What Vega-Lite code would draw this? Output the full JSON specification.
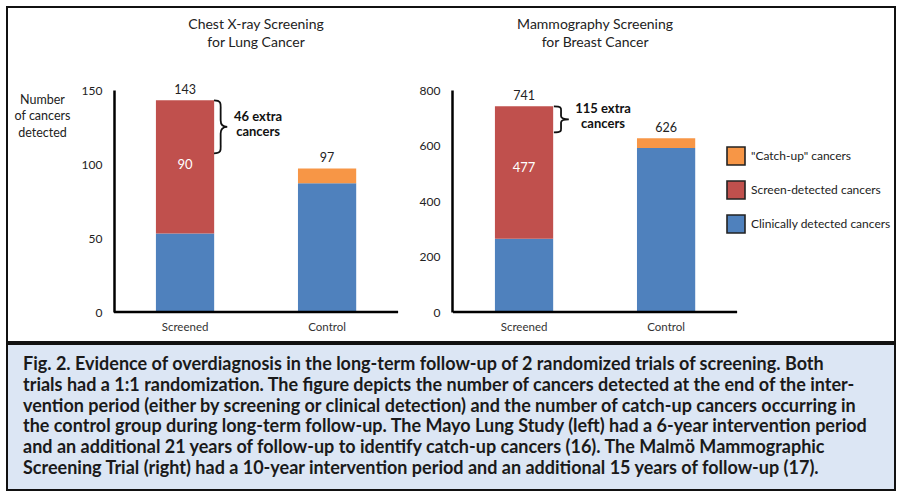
{
  "$schema": "https://vega.github.io/schema/vega-lite/v6.json",
  "background": "white",
  "padding": {"left": 6, "top": 6, "right": 6, "bottom": 8},
  "spacing": 0,
  "config": {"font": "Lato", "text": {"font": "Lato"}},
  "datasets": {
    "bars": [
      {"panel": "Lung", "group": "Screened", "type": "Clinically detected cancers", "order": 1, "count": 53},
      {"panel": "Lung", "group": "Screened", "type": "Screen-detected cancers", "order": 2, "count": 90},
      {"panel": "Lung", "group": "Control", "type": "Clinically detected cancers", "order": 1, "count": 87},
      {"panel": "Lung", "group": "Control", "type": "\"Catch-up\" cancers", "order": 3, "count": 10},
      {"panel": "Breast", "group": "Screened", "type": "Clinically detected cancers", "order": 1, "count": 264},
      {"panel": "Breast", "group": "Screened", "type": "Screen-detected cancers", "order": 2, "count": 477},
      {"panel": "Breast", "group": "Control", "type": "Clinically detected cancers", "order": 1, "count": 591},
      {"panel": "Breast", "group": "Control", "type": "\"Catch-up\" cancers", "order": 3, "count": 35}
    ],
    "notes": [
      {"panel": "Lung", "group": "Screened", "total": 143, "note": "46 extra\ncancers"},
      {"panel": "Breast", "group": "Screened", "total": 741, "note": "115 extra\ncancers"}
    ],
    "titles": [
      {"panel": "Lung", "title": "Chest X-ray Screening\nfor Lung Cancer"},
      {"panel": "Breast", "title": "Mammography Screening\nfor Breast Cancer"}
    ],
    "caption": [
      {"line": 1, "text": "Fig. 2.  Evidence of overdiagnosis in the long-term follow-up of 2 randomized trials of screening. Both"},
      {"line": 2, "text": "trials had a 1:1 randomization. The figure depicts the number of cancers detected at the end of the inter-"},
      {"line": 3, "text": "vention period (either by screening or clinical detection) and the number of catch-up cancers occurring in"},
      {"line": 4, "text": "the control group during long-term follow-up. The Mayo Lung Study (left) had a 6-year intervention period"},
      {"line": 5, "text": "and an additional 21 years of follow-up to identify catch-up cancers (16). The Malmö Mammographic"},
      {"line": 6, "text": "Screening Trial (right) had a 10-year intervention period and an additional 15 years of follow-up (17)."}
    ]
  },
  "vconcat": [
    {
      "width": 888,
      "height": 335,
      "view": {"stroke": "#111111", "strokeWidth": 2},
      "resolve": {"scale": {"y": "independent"}, "axis": {"y": "independent"}},
      "layer": [
        {
          "layer": [
            {
              "data": {"name": "bars"},
              "transform": [
                {"filter": "datum.panel === 'Lung'"},
                {"stack": "count", "groupby": ["panel", "group"], "sort": [{"field": "order"}], "as": ["y0", "y1"]}
              ],
              "mark": {"type": "bar"},
              "encoding": {
                "x": {"field": "panel", "type": "nominal", "axis": null, "scale": {"domain": ["Lung", "Breast"], "paddingInner": 0.162, "paddingOuter": 0.3907, "align": 0.404}},
                "xOffset": {"field": "group", "type": "nominal", "scale": {"domain": ["Screened", "Control"], "paddingInner": 0.59, "paddingOuter": 0.295}},
                "y": {
                  "field": "y1", "type": "quantitative",
                  "scale": {"domain": [0, 150], "range": [305, 83], "nice": false},
                  "axis": {
                    "orient": "left", "offset": -107, "values": [0, 50, 100, 150], "ticks": false, "tickSize": 0, "grid": false,
                    "domainColor": "#000000", "domainWidth": 2.5, "labelFontSize": 12, "labelPadding": 12, "labelColor": "#222222",
                    "title": ["Number", "of cancers", "detected"], "titleAngle": 0, "titleAlign": "center", "titleBaseline": "middle",
                    "titleX": -72, "titleY": 92, "titleFontSize": 12.5, "titleFontWeight": "normal", "titleLineHeight": 16.5, "titleColor": "#222222"
                  }
                },
                "y2": {"field": "y0"},
                "color": {
                  "field": "type", "type": "nominal",
                  "scale": {"domain": ["\"Catch-up\" cancers", "Screen-detected cancers", "Clinically detected cancers"], "range": ["#f79646", "#c0504d", "#4f81bd"]},
                  "legend": {
                    "orient": "none", "legendX": 719, "legendY": 139, "title": null, "padding": 0,
                    "symbolType": "square", "symbolSize": 324, "symbolStrokeColor": "#222222", "symbolStrokeWidth": 1.6,
                    "labelFontSize": 12, "labelOffset": 5, "rowPadding": 8, "labelColor": "#222222",
                    "encode": {"symbols": {"update": {"stroke": {"value": "#222222"}, "strokeWidth": {"value": 1.6}}}}
                  }
                }
              }
            },
            {
              "data": {"name": "bars"},
              "transform": [
                {"filter": "datum.panel === 'Lung'"},
                {"stack": "count", "groupby": ["panel", "group"], "sort": [{"field": "order"}], "as": ["y0", "y1"]},
                {"filter": "datum.type === 'Screen-detected cancers'"},
                {"calculate": "(datum.y0 + datum.y1) / 2", "as": "mid"}
              ],
              "mark": {"type": "text", "color": "white", "fontSize": 13, "dy": -2, "baseline": "middle"},
              "encoding": {
                "x": {"field": "panel", "type": "nominal", "axis": null, "scale": {"domain": ["Lung", "Breast"], "paddingInner": 0.162, "paddingOuter": 0.3907, "align": 0.404}},
                "xOffset": {"field": "group", "type": "nominal", "scale": {"domain": ["Screened", "Control"], "paddingInner": 0.59, "paddingOuter": 0.295}},
                "y": {"field": "mid", "type": "quantitative"},
                "text": {"field": "count", "type": "quantitative"}
              }
            },
            {
              "data": {"name": "bars"},
              "transform": [
                {"filter": "datum.panel === 'Lung'"},
                {"aggregate": [{"op": "sum", "field": "count", "as": "total"}], "groupby": ["panel", "group"]}
              ],
              "mark": {"type": "text", "color": "#222222", "fontSize": 12.5, "dy": -10, "baseline": "middle"},
              "encoding": {
                "x": {"field": "panel", "type": "nominal", "axis": null, "scale": {"domain": ["Lung", "Breast"], "paddingInner": 0.162, "paddingOuter": 0.3907, "align": 0.404}},
                "xOffset": {"field": "group", "type": "nominal", "scale": {"domain": ["Screened", "Control"], "paddingInner": 0.59, "paddingOuter": 0.295}},
                "y": {"field": "total", "type": "quantitative"},
                "text": {"field": "total", "type": "quantitative"}
              }
            },
            {
              "data": {"name": "bars"},
              "transform": [
                {"filter": "datum.panel === 'Lung'"},
                {"aggregate": [{"op": "count", "as": "n"}], "groupby": ["panel", "group"]}
              ],
              "mark": {"type": "text", "color": "#333333", "fontSize": 11.5, "dy": 16, "baseline": "middle"},
              "encoding": {
                "x": {"field": "panel", "type": "nominal", "axis": null, "scale": {"domain": ["Lung", "Breast"], "paddingInner": 0.162, "paddingOuter": 0.3907, "align": 0.404}},
                "xOffset": {"field": "group", "type": "nominal", "scale": {"domain": ["Screened", "Control"], "paddingInner": 0.59, "paddingOuter": 0.295}},
                "y": {"datum": 0, "type": "quantitative"},
                "text": {"field": "group", "type": "nominal"}
              }
            },
            {
              "data": {"name": "titles"},
              "transform": [{"filter": "datum.panel === 'Lung'"}],
              "mark": {"type": "rule", "color": "#000000", "strokeWidth": 2.5},
              "encoding": {
                "x": {"field": "panel", "type": "nominal", "bandPosition": 0, "axis": null, "scale": {"domain": ["Lung", "Breast"], "paddingInner": 0.162, "paddingOuter": 0.3907, "align": 0.404}},
                "x2": {"field": "panel", "bandPosition": 1},
                "y": {"datum": 0, "type": "quantitative"}
              }
            },
            {
              "data": {"name": "titles"},
              "transform": [{"filter": "datum.panel === 'Lung'"}],
              "mark": {"type": "text", "color": "#222222", "fontSize": 14, "lineBreak": "\n", "lineHeight": 18, "baseline": "middle", "dy": -65},
              "encoding": {
                "x": {"field": "panel", "type": "nominal", "axis": null, "scale": {"domain": ["Lung", "Breast"], "paddingInner": 0.162, "paddingOuter": 0.3907, "align": 0.404}},
                "y": {"datum": 150, "type": "quantitative"},
                "text": {"field": "title", "type": "nominal"}
              }
            },
            {
              "data": {"name": "notes"},
              "transform": [{"filter": "datum.panel === 'Lung'"}],
              "mark": {"type": "point", "filled": false, "opacity": 1, "stroke": "#111111", "strokeWidth": 1.8, "size": 2809,
                "shape": "M0,0 C0.3,0 0.25,0.15 0.25,0.35 L0.25,0.75 C0.25,0.92 0.35,1 0.5,1 C0.35,1 0.25,1.08 0.25,1.25 L0.25,1.65 C0.25,1.85 0.3,2 0,2"},
              "encoding": {
                "x": {"field": "panel", "type": "nominal", "bandPosition": 0.352, "axis": null, "scale": {"domain": ["Lung", "Breast"], "paddingInner": 0.162, "paddingOuter": 0.3907, "align": 0.404}},
                "y": {"field": "total", "type": "quantitative"}
              }
            },
            {
              "data": {"name": "notes"},
              "transform": [{"filter": "datum.panel === 'Lung'"}],
              "mark": {"type": "text", "color": "#111111", "fontSize": 13, "fontWeight": "bold", "lineBreak": "\n", "lineHeight": 15, "baseline": "middle", "dy": 17},
              "encoding": {
                "x": {"field": "panel", "type": "nominal", "bandPosition": 0.507, "axis": null, "scale": {"domain": ["Lung", "Breast"], "paddingInner": 0.162, "paddingOuter": 0.3907, "align": 0.404}},
                "y": {"field": "total", "type": "quantitative"},
                "text": {"field": "note", "type": "nominal"}
              }
            }
          ]
        },
        {
          "layer": [
            {
              "data": {"name": "bars"},
              "transform": [
                {"filter": "datum.panel === 'Breast'"},
                {"stack": "count", "groupby": ["panel", "group"], "sort": [{"field": "order"}], "as": ["y0", "y1"]}
              ],
              "mark": {"type": "bar"},
              "encoding": {
                "x": {"field": "panel", "type": "nominal", "axis": null, "scale": {"domain": ["Lung", "Breast"], "paddingInner": 0.162, "paddingOuter": 0.3907, "align": 0.404}},
                "xOffset": {"field": "group", "type": "nominal", "scale": {"domain": ["Screened", "Control"], "paddingInner": 0.59, "paddingOuter": 0.295}},
                "y": {
                  "field": "y1", "type": "quantitative",
                  "scale": {"domain": [0, 800], "range": [305, 83], "nice": false},
                  "axis": {
                    "orient": "left", "offset": -445, "values": [0, 200, 400, 600, 800], "ticks": false, "tickSize": 0, "grid": false,
                    "domainColor": "#000000", "domainWidth": 2.5, "labelFontSize": 12, "labelPadding": 12, "labelColor": "#222222", "title": null
                  }
                },
                "y2": {"field": "y0"},
                "color": {"field": "type", "type": "nominal"}
              }
            },
            {
              "data": {"name": "bars"},
              "transform": [
                {"filter": "datum.panel === 'Breast'"},
                {"stack": "count", "groupby": ["panel", "group"], "sort": [{"field": "order"}], "as": ["y0", "y1"]},
                {"filter": "datum.type === 'Screen-detected cancers'"},
                {"calculate": "(datum.y0 + datum.y1) / 2", "as": "mid"}
              ],
              "mark": {"type": "text", "color": "white", "fontSize": 13, "dy": -5, "baseline": "middle"},
              "encoding": {
                "x": {"field": "panel", "type": "nominal", "axis": null, "scale": {"domain": ["Lung", "Breast"], "paddingInner": 0.162, "paddingOuter": 0.3907, "align": 0.404}},
                "xOffset": {"field": "group", "type": "nominal", "scale": {"domain": ["Screened", "Control"], "paddingInner": 0.59, "paddingOuter": 0.295}},
                "y": {"field": "mid", "type": "quantitative"},
                "text": {"field": "count", "type": "quantitative"}
              }
            },
            {
              "data": {"name": "bars"},
              "transform": [
                {"filter": "datum.panel === 'Breast'"},
                {"aggregate": [{"op": "sum", "field": "count", "as": "total"}], "groupby": ["panel", "group"]}
              ],
              "mark": {"type": "text", "color": "#222222", "fontSize": 12.5, "dy": -10, "baseline": "middle"},
              "encoding": {
                "x": {"field": "panel", "type": "nominal", "axis": null, "scale": {"domain": ["Lung", "Breast"], "paddingInner": 0.162, "paddingOuter": 0.3907, "align": 0.404}},
                "xOffset": {"field": "group", "type": "nominal", "scale": {"domain": ["Screened", "Control"], "paddingInner": 0.59, "paddingOuter": 0.295}},
                "y": {"field": "total", "type": "quantitative"},
                "text": {"field": "total", "type": "quantitative"}
              }
            },
            {
              "data": {"name": "bars"},
              "transform": [
                {"filter": "datum.panel === 'Breast'"},
                {"aggregate": [{"op": "count", "as": "n"}], "groupby": ["panel", "group"]}
              ],
              "mark": {"type": "text", "color": "#333333", "fontSize": 11.5, "dy": 16, "baseline": "middle"},
              "encoding": {
                "x": {"field": "panel", "type": "nominal", "axis": null, "scale": {"domain": ["Lung", "Breast"], "paddingInner": 0.162, "paddingOuter": 0.3907, "align": 0.404}},
                "xOffset": {"field": "group", "type": "nominal", "scale": {"domain": ["Screened", "Control"], "paddingInner": 0.59, "paddingOuter": 0.295}},
                "y": {"datum": 0, "type": "quantitative"},
                "text": {"field": "group", "type": "nominal"}
              }
            },
            {
              "data": {"name": "titles"},
              "transform": [{"filter": "datum.panel === 'Breast'"}],
              "mark": {"type": "rule", "color": "#000000", "strokeWidth": 2.5},
              "encoding": {
                "x": {"field": "panel", "type": "nominal", "bandPosition": 0, "axis": null, "scale": {"domain": ["Lung", "Breast"], "paddingInner": 0.162, "paddingOuter": 0.3907, "align": 0.404}},
                "x2": {"field": "panel", "bandPosition": 1},
                "y": {"datum": 0, "type": "quantitative"}
              }
            },
            {
              "data": {"name": "titles"},
              "transform": [{"filter": "datum.panel === 'Breast'"}],
              "mark": {"type": "text", "color": "#222222", "fontSize": 14, "lineBreak": "\n", "lineHeight": 18, "baseline": "middle", "dy": -65},
              "encoding": {
                "x": {"field": "panel", "type": "nominal", "axis": null, "scale": {"domain": ["Lung", "Breast"], "paddingInner": 0.162, "paddingOuter": 0.3907, "align": 0.404}},
                "y": {"datum": 800, "type": "quantitative"},
                "text": {"field": "title", "type": "nominal"}
              }
            },
            {
              "data": {"name": "notes"},
              "transform": [{"filter": "datum.panel === 'Breast'"}],
              "mark": {"type": "point", "filled": false, "opacity": 1, "stroke": "#111111", "strokeWidth": 1.8, "size": 676,
                "shape": "M0,0 C0.65,0 0.55,0.15 0.55,0.4 L0.55,0.75 C0.55,0.92 0.8,1 1.15,1 C0.8,1 0.55,1.08 0.55,1.25 L0.55,1.6 C0.55,1.85 0.65,2 0,2"},
              "encoding": {
                "x": {"field": "panel", "type": "nominal", "bandPosition": 0.355, "axis": null, "scale": {"domain": ["Lung", "Breast"], "paddingInner": 0.162, "paddingOuter": 0.3907, "align": 0.404}},
                "y": {"field": "total", "type": "quantitative"}
              }
            },
            {
              "data": {"name": "notes"},
              "transform": [{"filter": "datum.panel === 'Breast'"}],
              "mark": {"type": "text", "color": "#111111", "fontSize": 13, "fontWeight": "bold", "lineBreak": "\n", "lineHeight": 15, "baseline": "middle", "dy": 3},
              "encoding": {
                "x": {"field": "panel", "type": "nominal", "bandPosition": 0.528, "axis": null, "scale": {"domain": ["Lung", "Breast"], "paddingInner": 0.162, "paddingOuter": 0.3907, "align": 0.404}},
                "y": {"field": "total", "type": "quantitative"},
                "text": {"field": "note", "type": "nominal"}
              }
            }
          ]
        }
      ]
    },
    {
      "width": 888,
      "height": 146,
      "view": {"fill": "#dce6f4", "stroke": "#111111", "strokeWidth": 2},
      "data": {"name": "caption"},
      "mark": {"type": "text", "align": "left", "baseline": "middle", "dx": 16, "fontSize": 18, "font": "Lato", "fontWeight": "bold", "color": "#1a1a1a"},
      "encoding": {
        "x": {"datum": 0, "type": "quantitative", "scale": {"domain": [0, 1]}, "axis": null},
        "y": {"field": "line", "type": "ordinal", "scale": {"type": "point", "padding": 1.13, "align": 0.5}, "axis": null},
        "text": {"field": "text", "type": "nominal"}
      }
    }
  ]
}
